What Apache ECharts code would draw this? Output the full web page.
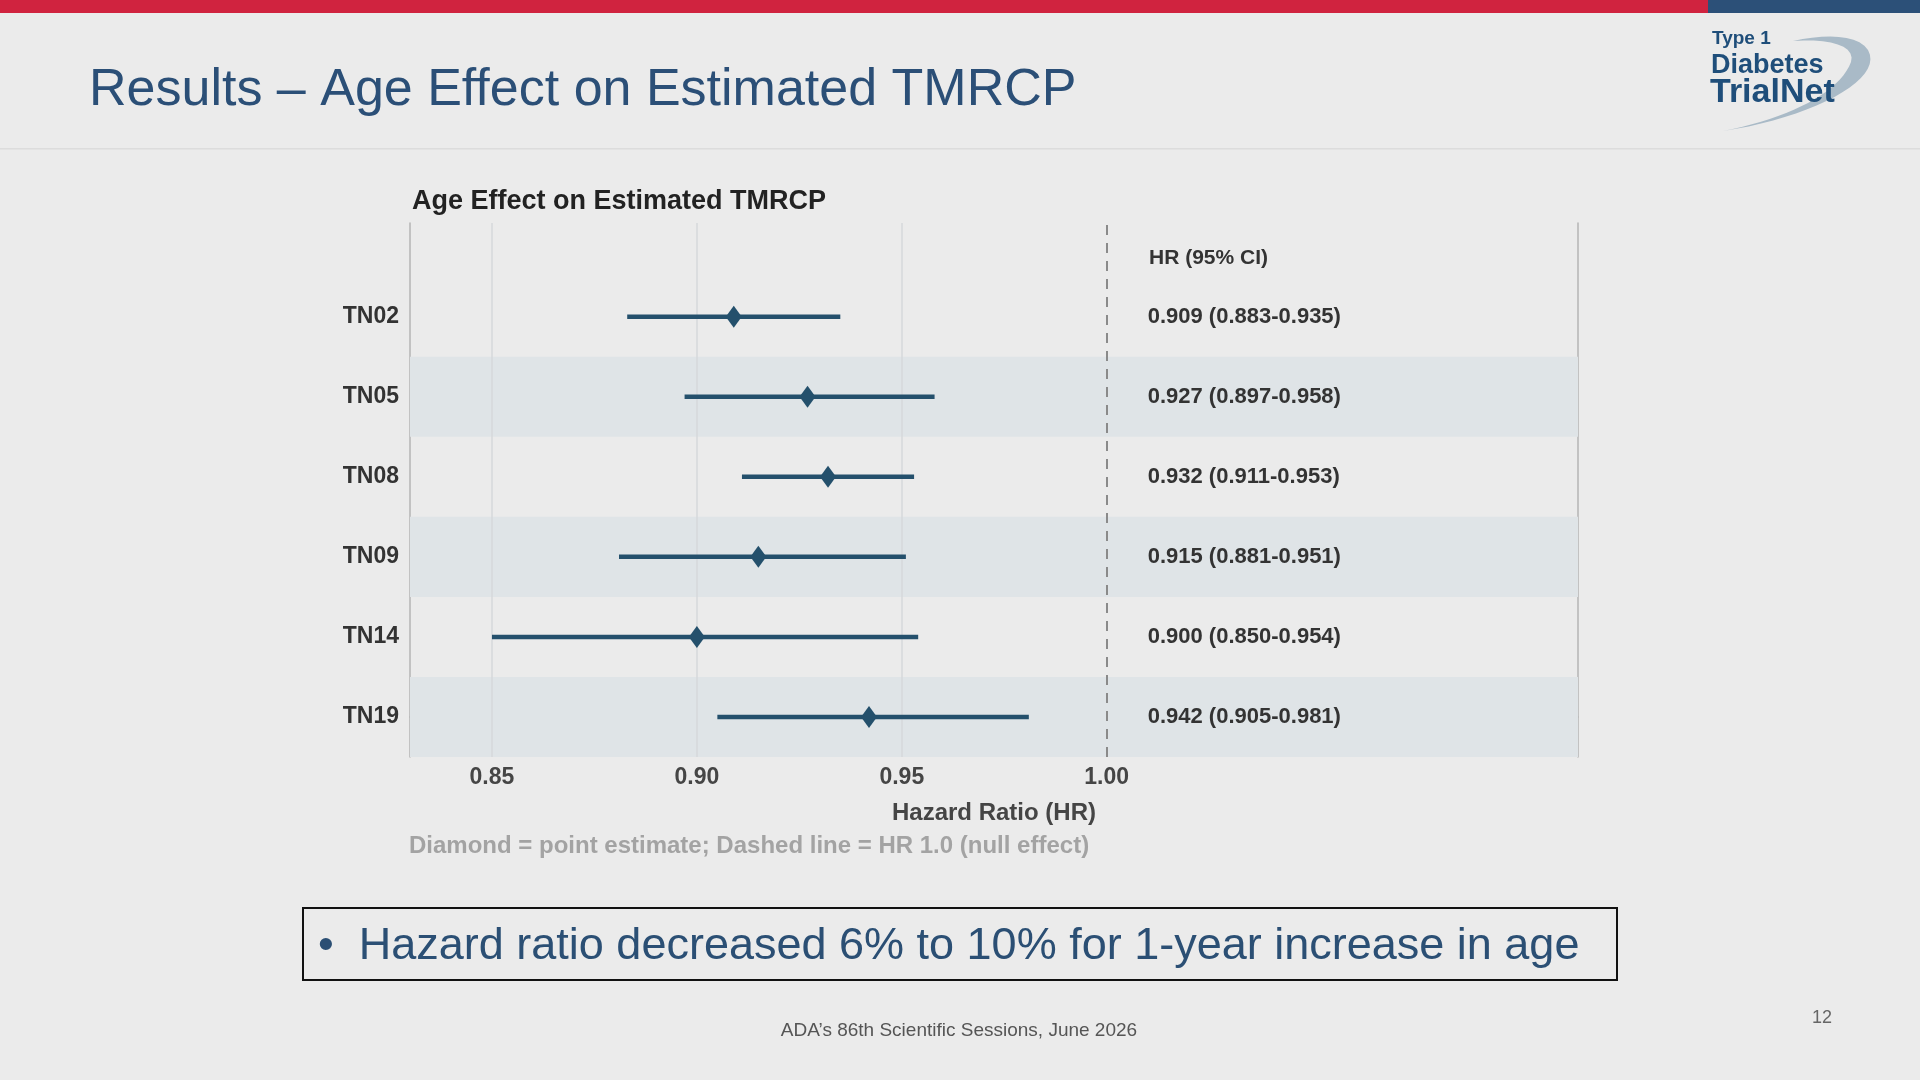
<!DOCTYPE html>
<html>
<head>
<meta charset="utf-8">
<script src="https://cdn.jsdelivr.net/npm/echarts@6/dist/echarts.min.js"></script>
<style>
  html, body { margin: 0; padding: 0; background: #ebebeb; }
  #main { width: 1920px; height: 1080px; }
</style>
</head>
<body>
<div id="main"></div>
<script type="text/javascript">
    // data
    var studies  = ['TN02', 'TN05', 'TN08', 'TN09', 'TN14', 'TN19'];
    var hr       = [0.909, 0.927, 0.932, 0.915, 0.900, 0.942];
    var ciLow    = [0.883, 0.897, 0.911, 0.881, 0.850, 0.905];
    var ciHigh   = [0.935, 0.958, 0.953, 0.951, 0.954, 0.981];
    var xTicks   = [0.85, 0.90, 0.95, 1.00];

    var myChart = echarts.init(document.getElementById('main'));

    // row position: first study on top
    var n = studies.length;
    function rowY(i) { return n - 1 - i; }

    var pointData = [], barData = [], textData = [];
    for (var i = 0; i < n; i++) {
        pointData.push([hr[i], rowY(i)]);
        barData.push([ciLow[i], ciHigh[i], rowY(i)]);
        textData.push([1.01, rowY(i), hr[i].toFixed(3) + ' (' + ciLow[i].toFixed(3) + '-' + ciHigh[i].toFixed(3) + ')']);
    }
    var yTicks = studies.map(function (s, i) { return rowY(i); });

    // shaded bands every other row
    var bands = [];
    for (var j = 1; j < n; j += 2) {
        bands.push([{ yAxis: rowY(j) - 0.5 }, { yAxis: rowY(j) + 0.5 }]);
    }

    var dark  = '#24506c';
    var font  = 'Liberation Sans, Arial, sans-serif';

    // logo swoosh outline (two cubic curves sampled into a polygon)
    function bez(p0, p1, p2, p3, t) {
        var u = 1 - t;
        return [u*u*u*p0[0] + 3*u*u*t*p1[0] + 3*u*t*t*p2[0] + t*t*t*p3[0],
                u*u*u*p0[1] + 3*u*u*t*p1[1] + 3*u*t*t*p2[1] + t*t*t*p3[1]];
    }
    var swoosh = [];
    for (var k = 0; k <= 20; k++) swoosh.push(bez([1723,131], [1810,118], [1885,80], [1868,50], k / 20));
    for (var k = 0; k <= 10; k++) swoosh.push(bez([1868,50], [1858,34], [1825,34], [1793,41], k / 10));
    for (var k = 0; k <= 10; k++) swoosh.push(bez([1793,41], [1830,38], [1856,46], [1851,62], k / 10));
    for (var k = 0; k <= 20; k++) swoosh.push(bez([1851,62], [1840,92], [1790,118], [1723,131], k / 20));

    var option = {
        backgroundColor: '#ebebeb',
        animation: false,
        title: {
            text: 'Age Effect on Estimated TMRCP',
            left: 407, top: 183,
            textStyle: { color: '#222', fontSize: 27, fontWeight: 'bold', fontFamily: font }
        },
        grid: { left: 410, top: 223, width: 1168, height: 534 },
        xAxis: {
            type: 'value', min: 0.83, max: 1.115,
            axisLine: { show: true, lineStyle: { color: '#b4b4b4', width: 1.5 } },
            axisTick: { show: false },
            splitLine: { show: false },
            axisLabel: {
                customValues: xTicks, margin: 9,
                formatter: function (v) { return v.toFixed(2); },
                color: '#454545', fontSize: 23, fontWeight: 'bold', fontFamily: font
            },
            name: 'Hazard Ratio (HR)', nameLocation: 'middle', nameGap: 44,
            nameTextStyle: { color: '#454545', fontSize: 24, fontWeight: 'bold', fontFamily: font }
        },
        yAxis: [
            {
                type: 'value', min: -0.5, max: 6.17,
                axisLine: { show: true, lineStyle: { color: '#b4b4b4', width: 1.5 } },
                axisTick: { show: false },
                splitLine: { show: false },
                axisLabel: {
                    customValues: yTicks, margin: 11,
                    formatter: function (v) { return studies[n - 1 - Math.round(v)]; },
                    color: '#333', fontSize: 23, fontWeight: 'bold', fontFamily: font
                }
            },
            {
                type: 'value', min: -0.5, max: 6.17, position: 'right',
                axisLine: { show: true, lineStyle: { color: '#b4b4b4', width: 1.5 } },
                axisTick: { show: false }, axisLabel: { show: false }, splitLine: { show: false }
            }
        ],
        series: [
            {
                // bands + reference lines, kept underneath the marks
                type: 'scatter', data: [], silent: true, z: 1,
                markArea: { silent: true, itemStyle: { color: '#dfe4e7' }, data: bands },
                markLine: {
                    silent: true, symbol: 'none', label: { show: false },
                    data: [
                        { xAxis: 0.85, lineStyle: { color: '#d6d9db', width: 1.5, type: 'solid' } },
                        { xAxis: 0.90, lineStyle: { color: '#d6d9db', width: 1.5, type: 'solid' } },
                        { xAxis: 0.95, lineStyle: { color: '#d6d9db', width: 1.5, type: 'solid' } },
                        { xAxis: 1.00, lineStyle: { color: '#8a8a8a', width: 2, type: [10, 8] } }
                    ]
                }
            },
            {
                type: 'custom', silent: true,
                renderItem: function (params, api) {
                    var a = api.coord([api.value(0), api.value(2)]);
                    var b = api.coord([api.value(1), api.value(2)]);
                    return {
                        type: 'line',
                        shape: { x1: a[0], y1: a[1], x2: b[0], y2: b[1] },
                        style: { stroke: dark, lineWidth: 4.5 }
                    };
                },
                encode: { x: [0, 1], y: 2 },
                data: barData, z: 5
            },
            {
                type: 'scatter', symbol: 'diamond', symbolSize: [16, 22], silent: true,
                itemStyle: { color: dark, opacity: 1, borderWidth: 0 },
                emphasis: { disabled: true },
                data: pointData, z: 10
            },
            {
                type: 'custom', silent: true,
                renderItem: function (params, api) {
                    var p = api.coord([api.value(0), api.value(1)]);
                    return {
                        type: 'text',
                        style: {
                            x: p[0], y: p[1], text: textData[params.dataIndex][2],
                            fill: '#333', font: 'bold 22px ' + font,
                            textAlign: 'left', textVerticalAlign: 'middle'
                        }
                    };
                },
                encode: { x: 0, y: 1 },
                data: textData, z: 6
            }
        ],
        graphic: [
            { type: 'rect', shape: { x: 0, y: 0, width: 1708, height: 13 }, style: { fill: '#d0233f' } },
            { type: 'rect', shape: { x: 1708, y: 0, width: 212, height: 13 }, style: { fill: '#2c5078' } },
            { type: 'rect', shape: { x: 0, y: 148, width: 1920, height: 1.5 }, style: { fill: '#dcdcdc' } },
            {
                type: 'text', x: 89, y: 65,
                style: { text: 'Results \u2013 Age Effect on Estimated TMRCP', fill: '#2b4f77', font: '52px ' + font }
            },
            // logo
            { type: 'polygon', shape: { points: swoosh }, style: { fill: '#a9bac7' } },
            { type: 'text', x: 1712, y: 29, style: { text: 'Type 1', fill: '#1f4e7a', font: 'bold 19px ' + font } },
            { type: 'text', x: 1711, y: 52, style: { text: 'Diabetes', fill: '#1f4e7a', font: 'bold 27px ' + font } },
            { type: 'text', x: 1710, y: 76, style: { text: 'TrialNet', fill: '#1f4e7a', font: 'bold 34px ' + font } },
            // column header
            {
                type: 'text', x: 1149, y: 248,
                style: { text: 'HR (95% CI)', fill: '#333', font: 'bold 21px ' + font }
            },
            {
                type: 'text', x: 409, y: 834,
                style: { text: 'Diamond = point estimate; Dashed line = HR 1.0 (null effect)', fill: '#a3a3a3', font: 'bold 24px ' + font }
            },
            // takeaway box
            {
                type: 'rect', shape: { x: 303, y: 908, width: 1314, height: 72 },
                style: { fill: 'none', stroke: '#111', lineWidth: 2 }
            },
            {
                type: 'text', x: 318, y: 924,
                style: { text: '\u2022  Hazard ratio decreased 6% to 10% for 1-year increase in age', fill: '#2b4f74', font: '45px ' + font }
            },
            {
                type: 'text', x: 959, y: 1021,
                style: { text: 'ADA\u2019s 86th Scientific Sessions, June 2026', fill: '#555', font: '19px ' + font, textAlign: 'center' }
            },
            { type: 'text', x: 1812, y: 1009, style: { text: '12', fill: '#666', font: '18px ' + font } }
        ]
    };
    myChart.setOption(option);
</script>
</body>
</html>
